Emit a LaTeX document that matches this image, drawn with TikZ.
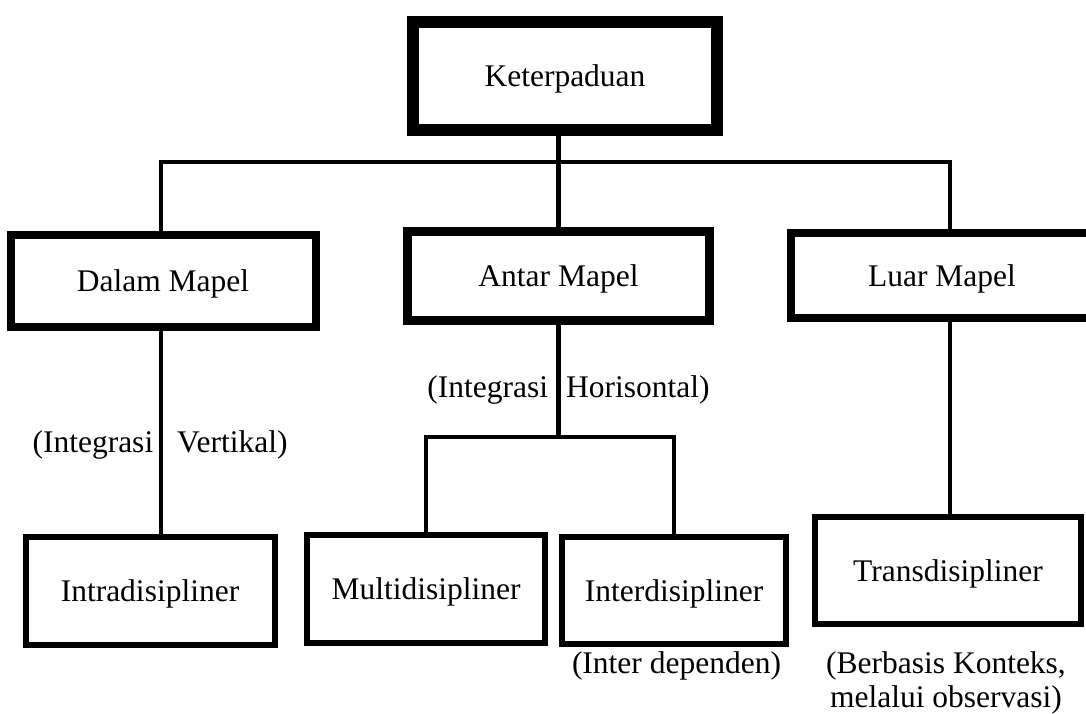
\documentclass[tikz,border=0pt]{standalone}
\usepackage{fontspec}
\setmainfont{Liberation Serif}
\begin{document}
\begin{tikzpicture}[x=1pt,y=-1pt,
  box/.style={draw=black,fill=white,inner sep=0pt,align=center,text height=21pt,text depth=0pt},
  conn/.style={draw=black,line width=4.3pt},
  lbl/.style={inner sep=0pt,align=center,anchor=base}]
\useasboundingbox (0,0) rectangle (1086,713);
\clip (0,0) rectangle (1086,713);
\fontsize{31.5}{34}\selectfont
% boxes
\node[box,line width=12pt,minimum width=304pt,minimum height=108pt] (K) at (565,76) {Keterpaduan};
\node[box,line width=8pt,minimum width=305pt,minimum height=92pt] (D) at (163,280.5) {Dalam Mapel};
\node[box,line width=9pt,minimum width=302pt,minimum height=89pt] (A) at (558.5,276) {Antar Mapel};
\node[box,line width=8pt,minimum width=302pt,minimum height=85pt] (L) at (942,275.5) {Luar Mapel};
\node[box,line width=6pt,minimum width=249pt,minimum height=108pt] (I) at (150,591) {Intradisipliner};
\node[box,line width=6pt,minimum width=238pt,minimum height=108pt] (M) at (426,589) {Multidisipliner};
\node[box,line width=6pt,minimum width=224pt,minimum height=107pt] (N) at (674,590.5) {Interdisipliner};
\node[box,line width=6pt,minimum width=266pt,minimum height=107pt] (T) at (948,570.5) {Transdisipliner};
% labels
\node[lbl] (lv) at (160,452) {(Integrasi\hspace{24pt}Vertikal)};
\node[lbl] (lh) at (568.5,397.5) {(Integrasi\hspace{18pt}Horisontal)};
\node[lbl] (ld) at (676.5,673) {(Inter dependen)};
\node[lbl] (lb) at (946,707) {(Berbasis Konteks,\\melalui observasi)};
% connectors
\coordinate (tl) at (161,162);
\coordinate (tr) at (950,162);
\coordinate (fk) at (560,437);
\path[conn] (A.north |- K.south) -- (A.north);
\path[conn] (tl |- D.north) -- (tl) -- (tr) -- (tr |- L.north);
\path[conn] (tl |- D.south) -- (tl |- I.north);
\path[conn] (A.south) -- (A.south |- fk);
\path[conn] (M.north) |- (N.north |- fk) -- (N.north);
\path[conn] (tr |- L.south) -- (tr |- T.north);
\end{tikzpicture}
\end{document}
